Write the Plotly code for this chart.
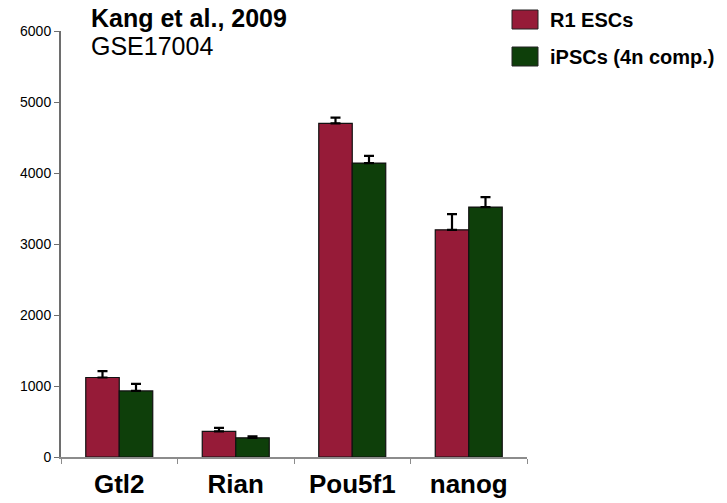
import plotly.graph_objects as go

genes = ["Gtl2", "Rian", "Pou5f1", "nanog"]
esc_vals = [1120, 360, 4700, 3200]
esc_err = [90, 50, 80, 220]
ips_vals = [930, 270, 4140, 3520]
ips_err = [100, 20, 100, 140]

series_names = ["R1 ESCs", "iPSCs (4n comp.)"]
colors = ["#961B38", "#0E3F0A"]

FONT = "Liberation Sans, Arial, sans-serif"

fig = go.Figure()
for name, vals, errs, col in zip(series_names, [esc_vals, ips_vals], [esc_err, ips_err], colors):
    fig.add_trace(go.Bar(
        x=genes, y=vals, name=name,
        marker=dict(color=col, line=dict(color="#111111", width=1.2)),
        error_y=dict(type="data", array=errs, symmetric=False,
                     arrayminus=[0] * len(errs), color="#000000",
                     thickness=2.2, width=5),
        showlegend=False,
    ))

# Manual legend: colored boxes with bold labels to the right of the plot
L, R, T, B = 61, 200, 31, 46
W, H = 727, 503
pw, ph = W - L - R, H - T - B

def px(x):
    return (x - L) / pw

def py(y):
    return (H - B - y) / ph

legend_rows = [(10, 29), (47, 66)]
for (y0, y1), name, col in zip(legend_rows, series_names, colors):
    fig.add_shape(type="rect", xref="paper", yref="paper",
                  x0=px(512), x1=px(538), y0=py(y1), y1=py(y0),
                  fillcolor=col, line=dict(color="#222222", width=1))
    fig.add_annotation(xref="paper", yref="paper", x=px(548), y=py((y0 + y1) / 2),
                       text="<b>" + name + "</b>", showarrow=False,
                       xanchor="left", yanchor="middle",
                       font=dict(family=FONT, size=20, color="#000000"))

fig.add_annotation(xref="paper", yref="paper", x=px(89), y=py(18),
                   text="<b>Kang et al., 2009</b>", showarrow=False,
                   xanchor="left", yanchor="middle",
                   font=dict(family=FONT, size=25, color="#000000"))
fig.add_annotation(xref="paper", yref="paper", x=px(89), y=py(46),
                   text="GSE17004", showarrow=False,
                   xanchor="left", yanchor="middle",
                   font=dict(family=FONT, size=25, color="#000000"))

fig.update_layout(
    width=W, height=H,
    margin=dict(l=L, r=R, t=T, b=B),
    paper_bgcolor="white", plot_bgcolor="white",
    barmode="group", bargap=0.425, bargroupgap=0,
    font=dict(family=FONT, color="#000000"),
    xaxis=dict(
        automargin=False,
        showline=True, linecolor="#8c8c8c", linewidth=2,
        ticks="outside", tickson="boundaries", ticklen=5, tickcolor="#8c8c8c",
        tickfont=dict(family=FONT, size=26, color="#000000", weight="bold"),
        ticklabelstandoff=3,
        showgrid=False, zeroline=False,
    ),
    yaxis=dict(
        automargin=False,
        range=[0, 6000], tickvals=[0, 1000, 2000, 3000, 4000, 5000, 6000],
        showline=True, linecolor="#6e6e6e", linewidth=2,
        ticks="outside", ticklen=5, tickcolor="#6e6e6e",
        tickfont=dict(family=FONT, size=14, color="#000000"),
        showgrid=False, zeroline=False,
    ),
)

fig.write_html("out.html")
